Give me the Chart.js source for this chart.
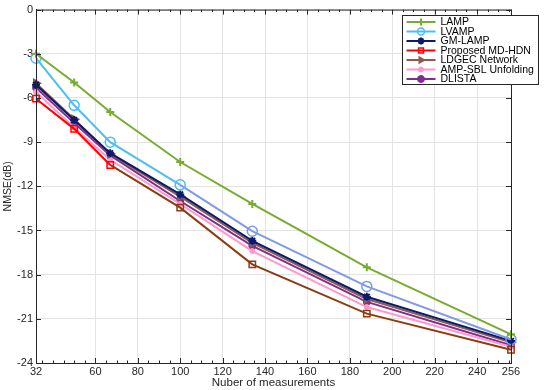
<!DOCTYPE html>
<html>
<head>
<meta charset="utf-8">
<script src="https://cdn.jsdelivr.net/npm/chart.js@4.4.1/dist/chart.umd.min.js"></script>
<style>
  html, body { margin: 0; padding: 0; background: #fff; }
  #wrap { width: 550px; height: 390px; position: relative; }
</style>
</head>
<body>
<div id="wrap"><canvas id="c"></canvas></div>
<script>
// values (x = marker positions on the axis)
const measurements = [32, 50, 67, 100, 134, 188, 256];
const lamp    = [-3.0, -4.95, -6.95, -10.35, -13.2, -17.5, -22.05];
const lvamp   = [-3.3, -6.5, -9.0, -11.9, -15.05, -18.8, -22.4];
const gmLamp  = [-5.1, -7.5, -9.75, -12.55, -15.7, -19.5, -22.5];
const mdHdn   = [-6.05, -8.1, -10.55, -13.45, -17.3, -20.65, -23.1];
const ldgec   = [-5.0, -7.45, -9.8, -12.7, -15.85, -19.65, -22.6];
const ampSbl  = [-5.6, -8.0, -10.2, -13.2, -16.4, -20.2, -22.9];
const dlista  = [-5.3, -7.7, -9.9, -13.0, -16.05, -19.85, -22.8];

const xTicks = [32, 60, 80, 100, 120, 140, 160, 180, 200, 220, 240, 256];
const yTicks = [0, -3, -6, -9, -12, -15, -18, -21, -24];

const font = "'Liberation Sans', Arial, sans-serif";
const axisColor = '#262626';

function pts(ys) {
  return ys.map((y, i) => ({ x: measurements[i], y: y }));
}

const red = '#ff0000', brownDark = '#8b3d12';
const sky = '#4dbeee', lavender = '#7f9be6';

const datasets = [
  { label: 'LAMP', data: pts(lamp), borderColor: '#77ac30', backgroundColor: '#77ac30',
    pointStyle: 'crossRot', pointRadius: 4, pointBorderWidth: 2, pointRotation: 45 },
  { label: 'LVAMP', data: pts(lvamp), borderColor: sky, backgroundColor: 'rgba(0,0,0,0)',
    pointStyle: 'circle', pointRadius: 5, pointBorderWidth: 1.5,
    pointBorderColor: lvamp.map((v, i) => i >= 4 ? lavender : sky),
    segment: { borderColor: c => c.p0DataIndex >= 3 ? lavender : sky } },
  { label: 'GM-LAMP', data: pts(gmLamp), borderColor: '#0b1a6b', backgroundColor: '#0b1a6b',
    pointStyle: 'star', pointRadius: 4, pointBorderWidth: 2 },
  { label: 'Proposed MD-HDN', data: pts(mdHdn), borderColor: red, backgroundColor: 'rgba(0,0,0,0)',
    pointStyle: 'rect', pointRadius: 4.5, pointBorderWidth: 1.5,
    pointBorderColor: mdHdn.map((v, i) => i >= 3 ? brownDark : red),
    segment: { borderColor: c => c.p0DataIndex >= 2 ? brownDark : red } },
  { label: 'LDGEC Network', data: pts(ldgec), borderColor: '#8c5a50', backgroundColor: '#8c5a50',
    pointStyle: 'triangle', pointRotation: 90, pointRadius: 4.5, pointBorderWidth: 1.5 },
  { label: 'AMP-SBL Unfolding', data: pts(ampSbl), borderColor: '#ff99cc', backgroundColor: '#ff99cc',
    pointStyle: 'circle', pointRadius: 2.5, pointBorderWidth: 1 },
  { label: 'DLISTA', data: pts(dlista), borderColor: '#7e2f8e', backgroundColor: '#7e2f8e',
    pointStyle: 'circle', pointRadius: 3.5, pointBorderWidth: 1 }
];
datasets.forEach(d => { d.borderWidth = 2; d.tension = 0; d.clip = false; });

// MATLAB-like inner tick marks and minor ticks
const tickMarks = {
  id: 'tickMarks',
  afterDraw(chart) {
    const { ctx, chartArea: a, scales: { x, y } } = chart;
    ctx.save();
    ctx.strokeStyle = axisColor;
    ctx.lineWidth = 1;
    ctx.beginPath();
    xTicks.forEach(v => {
      const px = Math.round(x.getPixelForValue(v)) + 0.5;
      ctx.moveTo(px, a.bottom); ctx.lineTo(px, a.bottom - 5);
      ctx.moveTo(px, a.top); ctx.lineTo(px, a.top + 5);
    });
    for (let v = 35; v < 256; v += 5) {
      if (xTicks.includes(v)) continue;
      const px = Math.round(x.getPixelForValue(v)) + 0.5;
      ctx.moveTo(px, a.bottom); ctx.lineTo(px, a.bottom - 2.5);
      ctx.moveTo(px, a.top); ctx.lineTo(px, a.top + 2.5);
    }
    yTicks.forEach(v => {
      const py = Math.round(y.getPixelForValue(v)) + 0.5;
      ctx.moveTo(a.left, py); ctx.lineTo(a.left + 5, py);
      ctx.moveTo(a.right, py); ctx.lineTo(a.right - 5, py);
    });
    ctx.stroke();
    ctx.restore();
  }
};

// legend box inside the plot, top right
const boxLegend = {
  id: 'boxLegend',
  afterDraw(chart) {
    const ctx = chart.ctx;
    const bx = 402.5, by = 15.5, bw = 136, bh = 69, row = 9.5;
    ctx.save();
    ctx.fillStyle = '#fff';
    ctx.fillRect(bx, by, bw, bh);
    ctx.strokeStyle = axisColor;
    ctx.lineWidth = 1;
    ctx.strokeRect(bx, by, bw, bh);
    ctx.font = '10.5px ' + font;
    ctx.textBaseline = 'middle';
    chart.data.datasets.forEach((d, i) => {
      const yy = by + 6.5 + i * row;
      const col = d.borderColor;
      ctx.strokeStyle = col;
      ctx.lineWidth = 2;
      ctx.beginPath();
      ctx.moveTo(bx + 4, yy); ctx.lineTo(bx + 33, yy);
      ctx.stroke();
      ctx.fillStyle = d.backgroundColor;
      ctx.lineWidth = d.pointBorderWidth;
      Chart.helpers.drawPoint(ctx, {
        pointStyle: d.pointStyle, radius: Math.min(d.pointRadius, 3.5),
        rotation: d.pointRotation || 0, borderWidth: d.pointBorderWidth
      }, bx + 18.5, yy);
      ctx.fillStyle = '#000';
      ctx.fillText(d.label, bx + 38, yy + 0.5);
    });
    ctx.restore();
  }
};

new Chart(document.getElementById('c'), {
  type: 'line',
  data: { datasets: datasets },
  options: {
    responsive: true,
    maintainAspectRatio: false,
    animation: false,
    layout: { padding: { top: 6, right: 39, bottom: 0, left: 2 } },
    plugins: { legend: { display: false }, tooltip: { enabled: false } },
    scales: {
      x: {
        type: 'linear', min: 32, max: 256,
        afterBuildTicks: s => { s.ticks = xTicks.map(v => ({ value: v })); },
        afterFit: s => { s.height = 27; },
        grid: { color: '#e3e3e3', drawTicks: false },
        border: { display: true, color: axisColor, width: 1 },
        ticks: { color: axisColor, font: { family: font, size: 11 }, padding: 2, maxRotation: 0, autoSkip: false },
        title: { display: true, text: 'Nuber of measurements', color: axisColor,
                 font: { family: font, size: 11.5 }, padding: { top: 0, bottom: 0 } }
      },
      y: {
        min: -24, max: 0,
        afterBuildTicks: s => { s.ticks = yTicks.map(v => ({ value: v })); },
        afterFit: s => { s.width = 34; },
        grid: { color: '#e3e3e3', drawTicks: false },
        border: { display: true, color: axisColor, width: 1 },
        ticks: { color: axisColor, font: { family: font, size: 11 }, padding: 3 },
        title: { display: true, text: 'NMSE(dB)', color: axisColor,
                 font: { family: font, size: 10.5 }, padding: { top: 0, bottom: 0 } }
      }
    }
  },
  plugins: [{
    id: 'frame',
    afterDatasetsDraw(chart) {
      const { ctx, chartArea: a } = chart;
      ctx.save();
      ctx.strokeStyle = axisColor;
      ctx.lineWidth = 1;
      ctx.strokeRect(a.left + 0.5, a.top + 0.5, a.right - a.left, a.bottom - a.top);
      ctx.restore();
    }
  }, tickMarks, boxLegend]
});
</script>
</body>
</html>
